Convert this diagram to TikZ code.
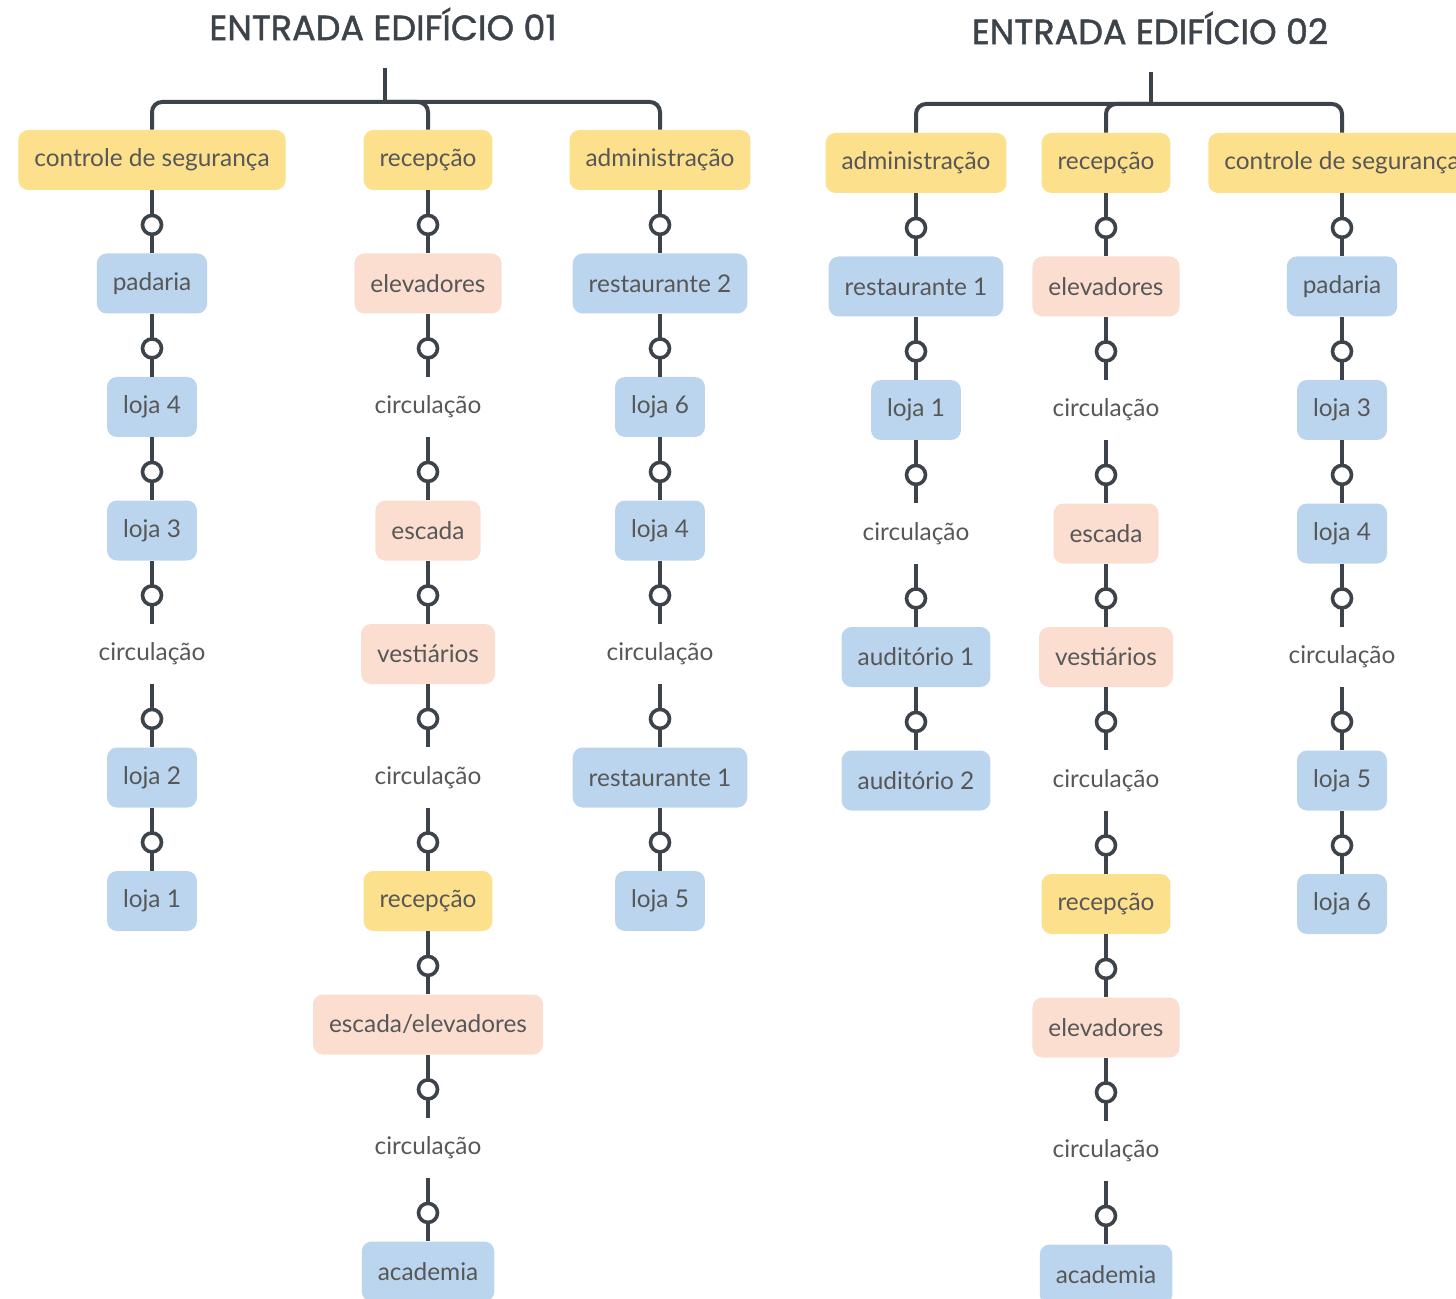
\documentclass[tikz,border=0pt]{standalone}
\usepackage{fontspec}
\setmainfont{Lato}
\newfontfamily\titlefont[FakeBold=1.3]{Poppins}
\usetikzlibrary{positioning}

\definecolor{amarelo}{HTML}{FDE08C}
\definecolor{azul}{HTML}{BBD5EE}
\definecolor{rosa}{HTML}{FBDED0}
\definecolor{texto}{HTML}{575757}
\definecolor{linha}{HTML}{3D434A}

\begin{document}
\begin{tikzpicture}[x=0.5pt,y=-0.5pt,node distance=61.75pt,
                every node/.style={font=\fontsize{12.2}{14}\selectfont,text=texto},
                box/.style={rectangle,rounded corners=5pt,minimum height=30pt,inner xsep=8pt},
                yellow node/.style={box,fill=amarelo},
                blue node/.style={box,fill=azul},
                pink node/.style={box,fill=rosa},
                plain node/.style={box},
                link/.style={draw=linha,line width=2pt},
                knob/.style={circle,draw=linha,fill=white,line width=1.8pt,minimum size=9.5pt,inner sep=0pt,pos=0.55},
                title/.style={font=\titlefont\fontsize{17.5}{20}\selectfont,text=linha}]

  \useasboundingbox (0,0) rectangle (1456,1299);
  \clip (0,0) rectangle (1456,1299);

  % edificio 01
  \node[title] (t1) at (383,24) {ENTRADA EDIFÍCIO 01};
  \coordinate (raiz1) at (385,68);
  \coordinate (hub1) at (385,102);

  \node[yellow node] (a1) at (152,160) {controle de segurança};
  \node[blue node] (a2) [below of=a1] {padaria};
  \node[blue node] (a3) [below of=a2] {loja 4};
  \node[blue node] (a4) [below of=a3] {loja 3};
  \node[plain node] (a5) [below of=a4] {circulação};
  \node[blue node] (a6) [below of=a5] {loja 2};
  \node[blue node] (a7) [below of=a6] {loja 1};

  \node[yellow node] (b1) at (428,160) {recepção};
  \node[pink node] (b2) [below of=b1] {elevadores};
  \node[plain node] (b3) [below of=b2] {circulação};
  \node[pink node] (b4) [below of=b3] {escada};
  \node[pink node] (b5) [below of=b4] {vestiários};
  \node[plain node] (b6) [below of=b5] {circulação};
  \node[yellow node] (b7) [below of=b6] {recepção};
  \node[pink node] (b8) [below of=b7] {escada/elevadores};
  \node[plain node] (b9) [below of=b8] {circulação};
  \node[blue node] (b10) [below of=b9] {academia};

  \node[yellow node] (c1) at (660,160) {administração};
  \node[blue node] (c2) [below of=c1] {restaurante 2};
  \node[blue node] (c3) [below of=c2] {loja 6};
  \node[blue node] (c4) [below of=c3] {loja 4};
  \node[plain node] (c5) [below of=c4] {circulação};
  \node[blue node] (c6) [below of=c5] {restaurante 1};
  \node[blue node] (c7) [below of=c6] {loja 5};

  % edificio 02
  \node[title] (t2) at (1150,28) {ENTRADA EDIFÍCIO 02};
  \coordinate (raiz2) at (1151,72);
  \coordinate (hub2) at (1151,104);

  \node[yellow node] (d1) at (916,163) {administração};
  \node[blue node] (d2) [below of=d1] {restaurante 1};
  \node[blue node] (d3) [below of=d2] {loja 1};
  \node[plain node] (d4) [below of=d3] {circulação};
  \node[blue node] (d5) [below of=d4] {auditório 1};
  \node[blue node] (d6) [below of=d5] {auditório 2};

  \node[yellow node] (e1) at (1106,163) {recepção};
  \node[pink node] (e2) [below of=e1] {elevadores};
  \node[plain node] (e3) [below of=e2] {circulação};
  \node[pink node] (e4) [below of=e3] {escada};
  \node[pink node] (e5) [below of=e4] {vestiários};
  \node[plain node] (e6) [below of=e5] {circulação};
  \node[yellow node] (e7) [below of=e6] {recepção};
  \node[pink node] (e8) [below of=e7] {elevadores};
  \node[plain node] (e9) [below of=e8] {circulação};
  \node[blue node] (e10) [below of=e9] {academia};

  \node[yellow node] (f1) at (1342,163) {controle de segurança};
  \node[blue node] (f2) [below of=f1] {padaria};
  \node[blue node] (f3) [below of=f2] {loja 3};
  \node[blue node] (f4) [below of=f3] {loja 4};
  \node[plain node] (f5) [below of=f4] {circulação};
  \node[blue node] (f6) [below of=f5] {loja 5};
  \node[blue node] (f7) [below of=f6] {loja 6};

  % troncos
  \draw[link] (raiz1) -- (hub1);
  \draw[link,rounded corners=5pt] (a1.north) |- (hub1) -| (c1.north);
  \draw[link,rounded corners=5pt] (hub1) -| (b1.north);
  \draw[link] (raiz2) -- (hub2);
  \draw[link,rounded corners=5pt] (d1.north) |- (hub2) -| (f1.north);
  \draw[link,rounded corners=5pt] (hub2) -| (e1.north);

  \path[link]
    (a1) edge node[knob] {} (a2)
    (a2) edge node[knob] {} (a3)
    (a3) edge node[knob] {} (a4)
    (a4) edge node[knob] {} (a5)
    (a5) edge node[knob] {} (a6)
    (a6) edge node[knob] {} (a7)
    (b1) edge node[knob] {} (b2)
    (b2) edge node[knob] {} (b3)
    (b3) edge node[knob] {} (b4)
    (b4) edge node[knob] {} (b5)
    (b5) edge node[knob] {} (b6)
    (b6) edge node[knob] {} (b7)
    (b7) edge node[knob] {} (b8)
    (b8) edge node[knob] {} (b9)
    (b9) edge node[knob] {} (b10)
    (c1) edge node[knob] {} (c2)
    (c2) edge node[knob] {} (c3)
    (c3) edge node[knob] {} (c4)
    (c4) edge node[knob] {} (c5)
    (c5) edge node[knob] {} (c6)
    (c6) edge node[knob] {} (c7)
    (d1) edge node[knob] {} (d2)
    (d2) edge node[knob] {} (d3)
    (d3) edge node[knob] {} (d4)
    (d4) edge node[knob] {} (d5)
    (d5) edge node[knob] {} (d6)
    (e1) edge node[knob] {} (e2)
    (e2) edge node[knob] {} (e3)
    (e3) edge node[knob] {} (e4)
    (e4) edge node[knob] {} (e5)
    (e5) edge node[knob] {} (e6)
    (e6) edge node[knob] {} (e7)
    (e7) edge node[knob] {} (e8)
    (e8) edge node[knob] {} (e9)
    (e9) edge node[knob] {} (e10)
    (f1) edge node[knob] {} (f2)
    (f2) edge node[knob] {} (f3)
    (f3) edge node[knob] {} (f4)
    (f4) edge node[knob] {} (f5)
    (f5) edge node[knob] {} (f6)
    (f6) edge node[knob] {} (f7);

\end{tikzpicture}
\end{document}
